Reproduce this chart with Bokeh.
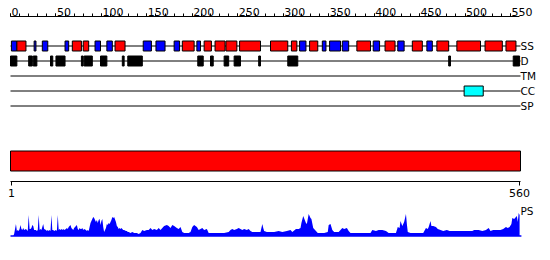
from bokeh.plotting import figure
from bokeh.models import Range1d, LinearAxis, FixedTicker
from bokeh.core.properties import value
from bokeh.embed import file_html
from bokeh.resources import INLINE

SEQ_LEN = 560
ruler_major = list(range(0, 551, 50))
ruler_minor = list(range(0, 551, 10))
bottom_ticks = [1, 560]
track_names = ["SS", "D", "TM", "CC", "SP"]

# secondary structure: H = helix (red), E = strand (blue)
ss_type = ["E", "H", "E", "E", "E", "H", "H", "E", "E", "H",
           "E", "E", "E", "H", "E", "H", "H", "H", "H", "H",
           "H", "E", "H", "E", "E", "E", "H", "E", "H", "E",
           "H", "E", "H", "H", "H", "H"]
ss_start = [1, 7, 26, 35, 60, 68, 80, 93, 106, 115,
            146, 160, 180, 189, 205, 213, 225, 237, 252, 286,
            309, 318, 329, 343, 351, 365, 381, 399, 412, 426,
            442, 458, 469, 491, 522, 545]
ss_end = [7, 17, 28, 41, 64, 78, 86, 99, 112, 126,
          155, 170, 186, 202, 209, 221, 236, 249, 275, 305,
          315, 325, 338, 347, 363, 372, 396, 406, 423, 433,
          453, 464, 482, 517, 541, 556]

# disorder
dis_start = [0, 20, 25, 44, 50, 78, 81, 99, 123, 129, 206, 220, 235, 246, 273, 305, 482, 553]
dis_end = [7, 24, 29, 46.5, 60, 80, 90, 106, 125, 145, 212, 223, 240, 253, 275, 316, 484, 560]

# coiled coil
cc_start = [499]
cc_end = [520]

# PS profile
ps_pos = [3, 4, 6, 7, 8, 9, 10, 11, 12, 13, 14, 15, 17, 18, 19, 20, 21, 22, 23, 24,
          25, 26, 28, 29, 30, 31, 32, 33, 34, 35, 36, 37, 39, 40, 41, 42, 43, 44, 45, 46,
          47, 48, 50, 51, 52, 53, 54, 55, 56, 57, 58, 59, 61, 62, 63, 64, 65, 66, 67, 68,
          69, 70, 72, 73, 74, 75, 76, 77, 78, 79, 80, 81, 83, 84, 85, 86, 87, 88, 89, 90,
          91, 92, 94, 95, 96, 97, 98, 99, 100, 101, 102, 103, 105, 106, 107, 108, 109, 110, 111, 112,
          113, 114, 116, 117, 118, 119, 120, 121, 122, 123, 124, 125, 127, 128, 129, 130, 132, 134, 136, 139,
          141, 143, 145, 147, 150, 152, 154, 156, 158, 161, 163, 165, 167, 169, 172, 174, 176, 178, 180, 183,
          185, 187, 189, 191, 194, 196, 198, 200, 202, 205, 207, 209, 211, 213, 216, 218, 222, 227, 231, 235,
          240, 242, 244, 246, 249, 251, 253, 255, 257, 260, 262, 264, 266, 271, 275, 277, 278, 279, 282, 286,
          290, 295, 299, 304, 308, 310, 314, 317, 319, 320, 322, 325, 326, 328, 330, 331, 333, 336, 338, 341,
          345, 349, 350, 352, 354, 356, 361, 365, 367, 370, 372, 374, 380, 385, 391, 396, 398, 402, 405, 409,
          413, 416, 420, 424, 426, 428, 429, 431, 433, 435, 436, 437, 440, 446, 451, 454, 457, 459, 460, 462,
          463, 465, 468, 470, 473, 476, 480, 483, 486, 491, 495, 499, 504, 508, 510, 515, 519, 523, 526, 528,
          531, 535, 539, 542, 545, 547, 549, 551, 552, 554, 557, 558, 559, 560]
ps_val = [0, 2, 12, 5, 6, 5, 7, 11, 7, 6, 8, 6, 7, 6, 5, 21, 7, 7, 8, 11,
          10, 6, 6, 5, 6, 21, 6, 7, 6, 9, 12, 7, 6, 5, 6, 5, 6, 5, 21, 6,
          6, 5, 6, 5, 21, 6, 7, 6, 7, 6, 7, 6, 7, 8, 7, 9, 10, 11, 8, 7,
          6, 8, 10, 11, 7, 6, 8, 7, 7, 8, 6, 7, 6, 5, 6, 5, 9, 13, 15, 17,
          19, 18, 14, 16, 13, 16, 17, 11, 15, 17, 9, 4, 8, 12, 11, 13, 12, 14, 16, 19,
          18, 19, 14, 10, 9, 7, 8, 7, 8, 7, 6, 6, 5, 5, 4, 4, 3, 4, 3, 3,
          2, 3, 6, 5, 6, 6, 8, 6, 7, 6, 8, 6, 8, 10, 11, 10, 8, 11, 10, 8,
          7, 9, 4, 3, 3, 3, 4, 9, 11, 9, 6, 7, 8, 6, 7, 3, 3, 3, 3, 3,
          4, 6, 7, 6, 7, 8, 7, 6, 7, 6, 7, 5, 4, 4, 4, 12, 8, 5, 4, 4,
          4, 5, 4, 5, 6, 4, 7, 7, 8, 13, 20, 13, 12, 22, 18, 17, 8, 5, 3, 3,
          3, 4, 11, 12, 6, 4, 4, 8, 7, 8, 5, 3, 3, 3, 3, 3, 6, 5, 6, 6,
          5, 3, 3, 3, 9, 8, 15, 10, 14, 22, 12, 4, 3, 3, 3, 3, 8, 7, 9, 15,
          10, 10, 9, 7, 6, 5, 6, 5, 5, 5, 5, 5, 5, 5, 6, 6, 5, 6, 8, 5,
          6, 6, 6, 7, 9, 8, 9, 12, 18, 17, 20, 14, 23, 21]

FONT = value("DejaVu Sans")
SS_COLORS = {"H": "#ff0000", "E": "#0000ff"}

track_y = [45.5, 60.5, 75.5, 90.5, 105.5]
half = 5

p = figure(width=550, height=260, x_range=Range1d(-11, 594), y_range=Range1d(260, 0),
           output_backend="svg", toolbar_location=None, min_border=0,
           x_axis_type=None, y_axis_type=None)
p.outline_line_color = None
p.background_fill_color = "white"
p.border_fill_color = "white"
p.extra_y_ranges = {"ps": Range1d(-24.5, 235.5)}

# top ruler
top_axis = LinearAxis(ticker=FixedTicker(ticks=ruler_major, minor_ticks=ruler_minor),
                      fixed_location=15.5, bounds=(0, SEQ_LEN),
                      major_tick_out=3, major_tick_in=0, minor_tick_out=3, minor_tick_in=0,
                      axis_line_color="black", major_tick_line_color="black",
                      minor_tick_line_color="black",
                      major_label_overrides={v: "" for v in ruler_major})
p.add_layout(top_axis, "above")
p.text(x=ruler_major, y=[11] * len(ruler_major), text=[str(v) for v in ruler_major],
       text_align="left", text_baseline="alphabetic", x_offset=1,
       text_font=FONT, text_font_size="11px", text_color="black")

# track lines
p.segment(x0=[0] * 5, x1=[SEQ_LEN + 1] * 5, y0=track_y, y1=track_y, line_color="black", line_width=1)

# SS boxes
p.quad(left=ss_start, right=ss_end, top=[track_y[0] - half] * len(ss_start),
       bottom=[track_y[0] + half] * len(ss_start),
       fill_color=[SS_COLORS[t] for t in ss_type], line_color="black", line_width=1)
# disorder
p.quad(left=dis_start, right=dis_end, top=[track_y[1] - half] * len(dis_start),
       bottom=[track_y[1] + half] * len(dis_start),
       fill_color="black", line_color="black", line_width=1)
# coiled coil
p.quad(left=cc_start, right=cc_end, top=[track_y[3] - half], bottom=[track_y[3] + half],
       fill_color="#00ffff", line_color="black", line_width=1)

p.text(x=[SEQ_LEN + 1] * 5, y=track_y, text=track_names, text_align="left", text_baseline="middle",
       text_font=FONT, text_font_size="10.5px", text_color="black")

# full-length bar
p.quad(left=[0], right=[SEQ_LEN + 1], top=[150.5], bottom=[170.5],
       fill_color="#ff0000", line_color="black", line_width=1)

bottom_axis = LinearAxis(ticker=FixedTicker(ticks=bottom_ticks, minor_ticks=[]),
                         fixed_location=180.5, bounds=(0, SEQ_LEN + 1),
                         major_tick_out=4, major_tick_in=0, minor_tick_out=0, minor_tick_in=0,
                         axis_line_color="black", major_tick_line_color="black",
                         major_label_standoff=4,
                         major_label_text_font="DejaVu Sans", major_label_text_font_size="11px",
                         major_label_text_color="black")
p.add_layout(bottom_axis, "below")

# PS profile
p.varea(x=ps_pos, y1=[0] * len(ps_pos), y2=ps_val, y_range_name="ps", fill_color="#0000ff")
p.line(x=[0, SEQ_LEN + 2], y=[0, 0], y_range_name="ps", line_color="#0000ff", line_width=1.5)
p.text(x=[SEQ_LEN + 1], y=[19], text=["PS"], y_range_name="ps", text_align="left",
       text_baseline="bottom", text_font=FONT, text_font_size="10.5px", text_color="black")

open("out.html", "w").write(file_html(p, INLINE))
